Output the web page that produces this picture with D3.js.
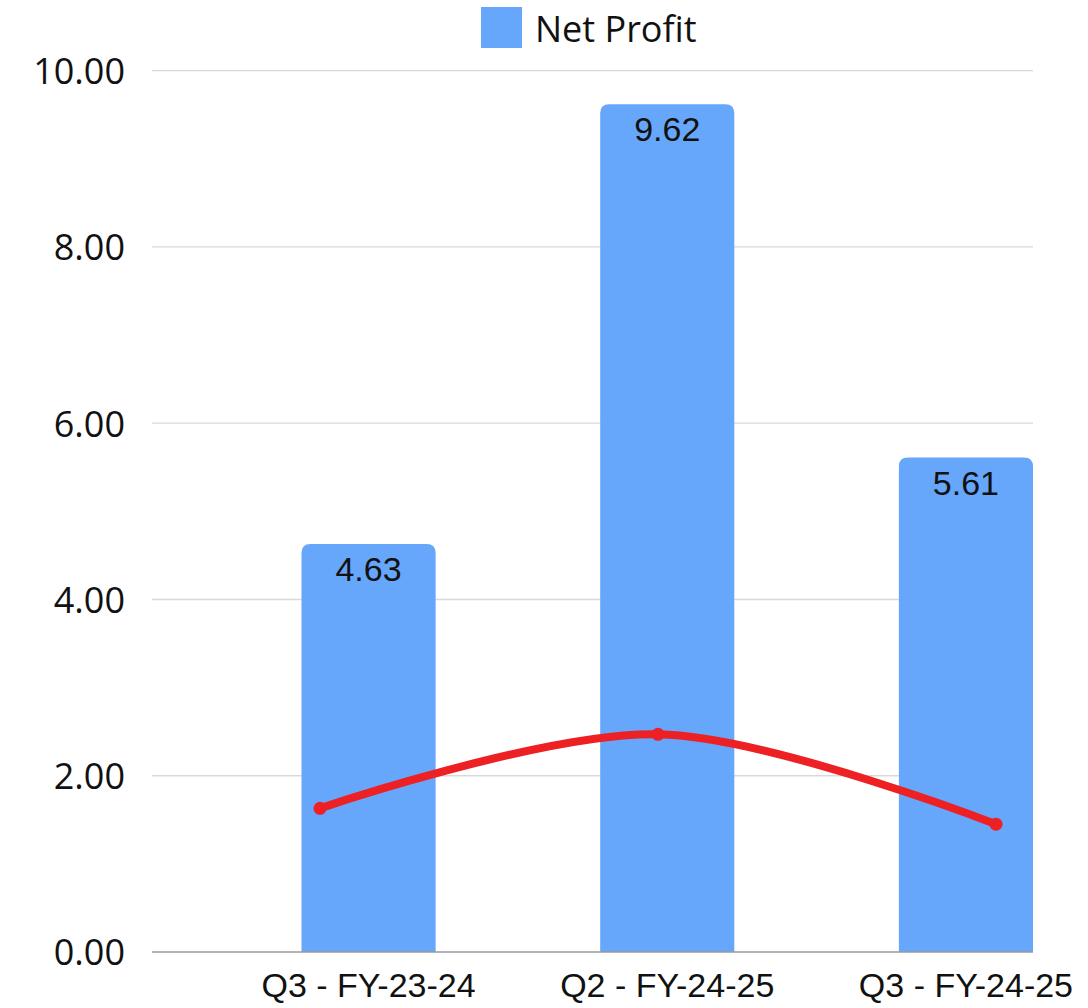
<!DOCTYPE html>
<html>
<head>
<meta charset="utf-8">
<script src="https://cdn.jsdelivr.net/npm/d3@7"></script>
<style>
  html, body { margin: 0; padding: 0; background: #fff; }
  svg { display: block; }
</style>
</head>
<body>
<svg id="chart" width="1088" height="1008"></svg>
<script>
const categories = ["Q3 - FY-23-24", "Q2 - FY-24-25", "Q3 - FY-24-25"];
const netProfit = [4.63, 9.62, 5.61];
const trendValues = [1.63, 2.47, 1.45];
const yTicks = [0, 2, 4, 6, 8, 10];
const seriesName = "Net Profit";

const svg = d3.select("#chart");
const plotLeft = 152, plotRight = 1033, plotTop = 70.7, plotBottom = 952;

const y = d3.scaleLinear().domain([0, 10]).range([plotBottom, plotTop]);
const x = d3.scaleBand().domain(categories).range([301.5, 1033]).paddingInner(0.551).paddingOuter(0);
const xLine = d3.scalePoint().domain(categories).range([320, 996]);

// gridlines
svg.append("g").selectAll("line").data(yTicks.filter(d => d !== 0)).join("line")
  .attr("x1", plotLeft).attr("x2", plotRight)
  .attr("y1", d => y(d)).attr("y2", d => y(d))
  .attr("stroke", "#d9d9d9").attr("stroke-width", 1.3);

// y axis labels
const yAxis = d3.axisLeft(y).tickValues(yTicks).tickFormat(d3.format(".2f")).tickSize(0).tickPadding(27);
const yg = svg.append("g").attr("transform", `translate(${plotLeft},0)`).call(yAxis);
yg.select(".domain").remove();
yg.selectAll("text").attr("font-family", "'Open Sans', sans-serif").attr("font-size", 36).attr("fill", "#111").attr("dy", "0.36em");

// bars with rounded top corners
const r = 9;
function barPath(x0, w, yTop, yBot) {
  return `M${x0},${yBot}V${yTop + r}Q${x0},${yTop} ${x0 + r},${yTop}H${x0 + w - r}Q${x0 + w},${yTop} ${x0 + w},${yTop + r}V${yBot}Z`;
}
svg.append("g").selectAll("path").data(categories).join("path")
  .attr("d", (c, i) => barPath(x(c), x.bandwidth(), y(netProfit[i]), y(0)))
  .attr("fill", "#66a6fb");

// baseline axis
svg.append("line").attr("x1", plotLeft).attr("x2", plotRight)
  .attr("y1", y(0)).attr("y2", y(0)).attr("stroke", "#9a9a9a").attr("stroke-width", 1.5);

// value labels
svg.append("g").selectAll("text").data(categories).join("text")
  .attr("x", c => x(c) + x.bandwidth() / 2)
  .attr("y", (c, i) => y(netProfit[i]) + 37)
  .attr("text-anchor", "middle")
  .attr("font-family", "'Liberation Sans', Arial, sans-serif").attr("font-size", 34).attr("fill", "#111")
  .text((c, i) => netProfit[i].toFixed(2));

// x labels
const xAxis = d3.axisBottom(x).tickSize(0).tickPadding(0);
const xg = svg.append("g").attr("transform", `translate(0,${plotBottom})`).call(xAxis);
xg.select(".domain").remove();
xg.selectAll("text").attr("font-family", "'Liberation Sans', Arial, sans-serif").attr("font-size", 34).attr("fill", "#111")
  .attr("dy", null).attr("y", 45);

// trend line
const line = d3.line().x((d, i) => xLine(categories[i])).y(d => y(d)).curve(d3.curveCatmullRom.alpha(0.5));
svg.append("path").datum(trendValues).attr("d", line)
  .attr("fill", "none").attr("stroke", "#ed2024").attr("stroke-width", 8).attr("stroke-linecap", "round");
svg.append("g").selectAll("circle").data(trendValues).join("circle")
  .attr("cx", (d, i) => xLine(categories[i])).attr("cy", d => y(d)).attr("r", 6.5).attr("fill", "#ed2024");

// legend
const lg = svg.append("g");
lg.append("rect").attr("x", 481).attr("y", 7).attr("width", 41).attr("height", 41).attr("fill", "#66a6fb");
lg.append("text").attr("x", 535).attr("y", 42).attr("font-family", "'Open Sans', sans-serif").attr("font-size", 36).attr("fill", "#111").text(seriesName);
</script>
</body>
</html>
